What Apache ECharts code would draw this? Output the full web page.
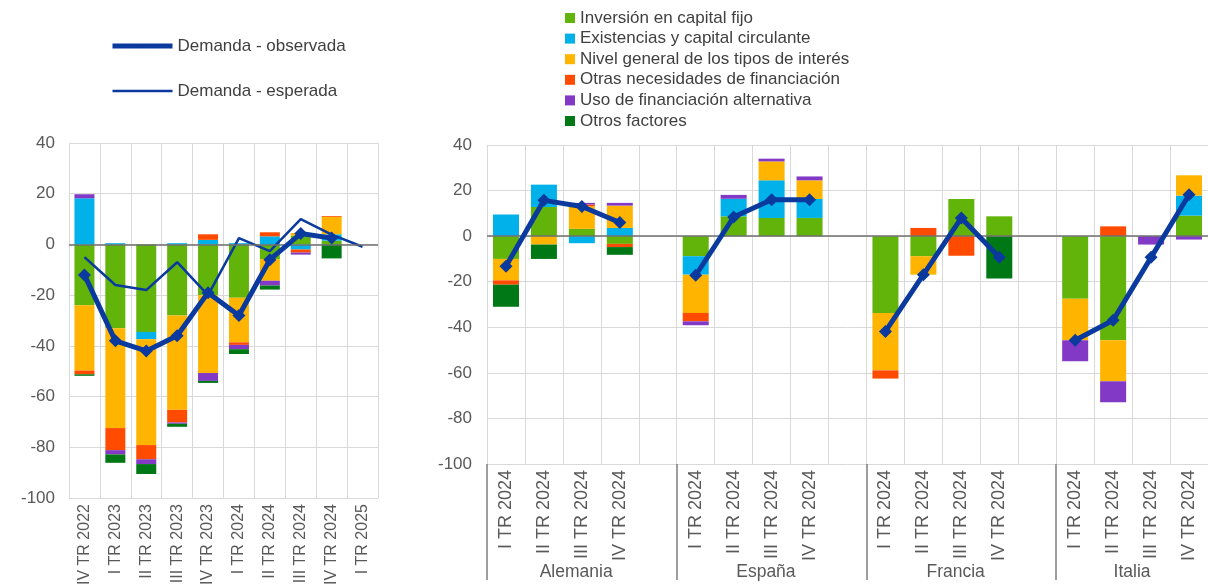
<!DOCTYPE html>
<html>
<head>
<meta charset="utf-8">
<title>Demanda de préstamos</title>
<script src="https://cdn.jsdelivr.net/npm/echarts@6.0.0/dist/echarts.min.js"></script>
<style>
html, body { margin: 0; padding: 0; background: #fff; }
#main { width: 1208px; height: 588px; }
</style>
</head>
<body>
<div id="main"></div>
<script>
// zona del euro (panel izquierdo)
var trimestres = ['IV TR 2022', 'I TR 2023', 'II TR 2023', 'III TR 2023', 'IV TR 2023',
                  'I TR 2024', 'II TR 2024', 'III TR 2024', 'IV TR 2024', 'I TR 2025'];
var inversion    = [-24, -33, -34.5, -28, -20, -21, -5.8, 3.5, 1.5, null];
var existencias  = [18.2, 0.5, -2.9, 0.5, 1.8, 0.5, 3.2, -2, 2.5, null];
var tipos        = [-25.7, -39.4, -41.7, -37.2, -30.7, -17.6, -8.5, 1, 6.9, null];
var otrasNec     = [-1.5, -8.7, -5.6, -5, 2.2, -1, 1.6, -1.2, 0.3, null];
var alternativa  = [1.6, -1.7, -1.9, -0.5, -3.1, -1.7, -1.9, -0.8, 0, null];
var otros        = [-0.6, -3.3, -3.9, -1.2, -0.8, -1.9, -1.6, 0, -5.5, null];
var demandaObservada = [-12, -38, -42, -36, -19, -28, -6, 4.3, 2.5, null];
var demandaEsperada  = [-5, -16, -18, -7, -20, 2.5, -2.6, 10, 3.9, -0.9];

// por países (panel derecho)
var paises = ['Alemania', 'España', 'Francia', 'Italia'];
var trimestresPais = ['I TR 2024', 'II TR 2024', 'III TR 2024', 'IV TR 2024'];
var inversionPais   = [[-10, 12.8, 3.2, -3.4], [-8.8, 8.7, 8, 8], [-33.7, -8.8, 16.3, 8.7], [-27.5, -45.7, 0, 9]];
var existenciasPais = [[9.5, 9.8, -3.1, 3.6], [-8.1, 7.7, 16.5, 8.3], [0, 0, 0, 0], [0, 0, 0, 8.8]];
var tiposPais       = [[-9.4, -3.7, 9.9, 9.8], [-16.8, 0, 8.3, 8.2], [-25.2, -8.1, 0, 0], [-18.2, -18, 0, 8.9]];
var otrasNecPais    = [[-1.9, 0, 0.8, -1.4], [-3.7, 0, 0, 0], [-3.6, 3.6, -8.6, 0], [0, 4.3, 0, 0]];
var alternativaPais = [[0, 0, 0.7, 1.2], [-1.7, 1.7, 1.2, 1.7], [0, 0, 0, 0], [-9.2, -9.2, -3.7, -1.5]];
var otrosPais       = [[-9.7, -6.3, 0, -3.4], [0, 0, 0, 0], [0, 0, 0, -18.6], [0, 0, 0, 0]];
var observadaPais   = [[-13.2, 15.7, 13, 6], [-17.2, 8.4, 16, 16], [-41.8, -16.9, 8, -9.3], [-45.7, -36.9, -9.3, 18.2]];

var azul = '#0a3a9e';
var gris = '#595959';
var rejilla = '#d9d9d9';

// une los paises en una sola fila, con un hueco entre ellos
function porPaises(filas, hueco) {
    var out = [];
    for (var i = 0; i < filas.length; i++) {
        if (i > 0) out.push(hueco);
        out = out.concat(filas[i]);
    }
    return out;
}

var catPaises = porPaises(paises.map(function () { return trimestresPais; }), '');
var nSlots = catPaises.length;

// posiciones de los separadores y de los nombres de pais en el eje de grupos
var inicios = [], centros = [];
for (var i = 0; i < paises.length; i++) {
    var ini = i * (trimestresPais.length + 1);
    var fin = Math.min(ini + trimestresPais.length + 1, nSlots);
    inicios.push(ini);
    centros.push((ini + fin) / 2 - (fin - ini > trimestresPais.length ? 0.15 : 0));
}

var componentes = [
    {name: 'Inversión en capital fijo', color: '#62B40A', zona: inversion, pais: inversionPais},
    {name: 'Existencias y capital circulante', color: '#00B1EA', zona: existencias, pais: existenciasPais},
    {name: 'Nivel general de los tipos de interés', color: '#FFB400', zona: tipos, pais: tiposPais},
    {name: 'Otras necesidades de financiación', color: '#FF4B00', zona: otrasNec, pais: otrasNecPais},
    {name: 'Uso de financiación alternativa', color: '#8139C6', zona: alternativa, pais: alternativaPais},
    {name: 'Otros factores', color: '#007816', zona: otros, pais: otrosPais}
];

var series = [];
componentes.forEach(function (c, k) {
    var ultimo = k === componentes.length - 1;
    var cero = ultimo ? {
        silent: true, symbol: 'none', label: {show: false},
        lineStyle: {color: '#6f6f6f', width: 1.5, type: 'solid'},
        data: [{yAxis: 0}]
    } : undefined;
    series.push({
        name: c.name, type: 'bar', stack: 'zona', xAxisIndex: 0, yAxisIndex: 0,
        barWidth: 20, itemStyle: {color: c.color}, data: c.zona, markLine: cero
    });
    series.push({
        name: c.name, type: 'bar', stack: 'paises', xAxisIndex: 1, yAxisIndex: 1,
        barWidth: 26, itemStyle: {color: c.color}, data: porPaises(c.pais, '-'), markLine: cero
    });
});

series.push({
    name: 'Demanda - observada', type: 'line', xAxisIndex: 0, yAxisIndex: 0,
    data: demandaObservada, symbol: 'diamond', symbolSize: 13, z: 5,
    lineStyle: {width: 5, color: azul}, itemStyle: {color: azul}
});
series.push({
    name: 'Demanda - esperada', type: 'line', xAxisIndex: 0, yAxisIndex: 0,
    data: demandaEsperada, symbol: 'none', z: 4,
    lineStyle: {width: 2.5, color: azul}, itemStyle: {color: azul}
});
series.push({
    name: 'Demanda - observada', type: 'line', xAxisIndex: 1, yAxisIndex: 1,
    data: porPaises(observadaPais, '-'), symbol: 'diamond', symbolSize: 13, z: 5,
    connectNulls: false,
    lineStyle: {width: 5, color: azul}, itemStyle: {color: azul}
});

function ejeY(grid, margen) {
    return {
        type: 'value', gridIndex: grid, min: -100, max: 40, interval: 20,
        axisLine: {show: false}, axisTick: {show: false},
        axisLabel: {color: gris, fontSize: 17, margin: margen},
        splitLine: {lineStyle: {color: rejilla, width: 1}}
    };
}

var chart = echarts.init(document.getElementById('main'));
chart.setOption({
    animation: false,
    textStyle: {fontFamily: 'Liberation Sans, Arial, sans-serif'},
    legend: [{
        data: [
            {name: 'Demanda - observada', lineStyle: {width: 5}},
            {name: 'Demanda - esperada', lineStyle: {width: 2.5}, itemStyle: {opacity: 0}}
        ],
        orient: 'vertical', left: 110, top: 36, padding: 0,
        itemWidth: 60, itemHeight: 5, itemGap: 25,
        textStyle: {color: '#404040', fontSize: 17, lineHeight: 20}
    }, {
        data: componentes.map(function (c) { return c.name; }),
        orient: 'vertical', left: 565, top: 8, padding: 0,
        icon: 'rect', itemWidth: 10, itemHeight: 10, itemGap: 0.6,
        textStyle: {color: '#404040', fontSize: 17, lineHeight: 20}
    }],
    grid: [
        {left: 69, top: 143, width: 309, height: 357},
        {left: 487, top: 145, width: 722, height: 319}
    ],
    xAxis: [{
        type: 'category', gridIndex: 0, data: trimestres,
        axisLine: {show: false, onZero: false}, axisTick: {show: false},
        axisLabel: {rotate: 90, interval: 0, color: gris, fontSize: 16, margin: 6},
        splitLine: {show: true, lineStyle: {color: rejilla}}
    }, {
        type: 'category', gridIndex: 1, data: catPaises,
        axisLine: {show: false, onZero: false}, axisTick: {show: false},
        axisLabel: {rotate: 90, interval: 0, color: gris, fontSize: 18, margin: 6},
        splitLine: {show: true, interval: 0, lineStyle: {color: rejilla}}
    }, {
        type: 'value', gridIndex: 1, min: 0, max: nSlots, position: 'bottom',
        axisLine: {show: false, onZero: false}, splitLine: {show: false},
        axisTick: {show: true, length: 116, customValues: inicios, lineStyle: {color: '#7f7f7f', width: 1.5}},
        axisLabel: {
            customValues: centros, color: gris, fontSize: 17.5, margin: 99,
            formatter: function (v) {
                for (var j = 0; j < centros.length; j++) {
                    if (Math.abs(centros[j] - v) < 0.01) return paises[j];
                }
                return '';
            }
        }
    }],
    yAxis: [ejeY(0, 14), ejeY(1, 15)],
    series: series
});
</script>
</body>
</html>
